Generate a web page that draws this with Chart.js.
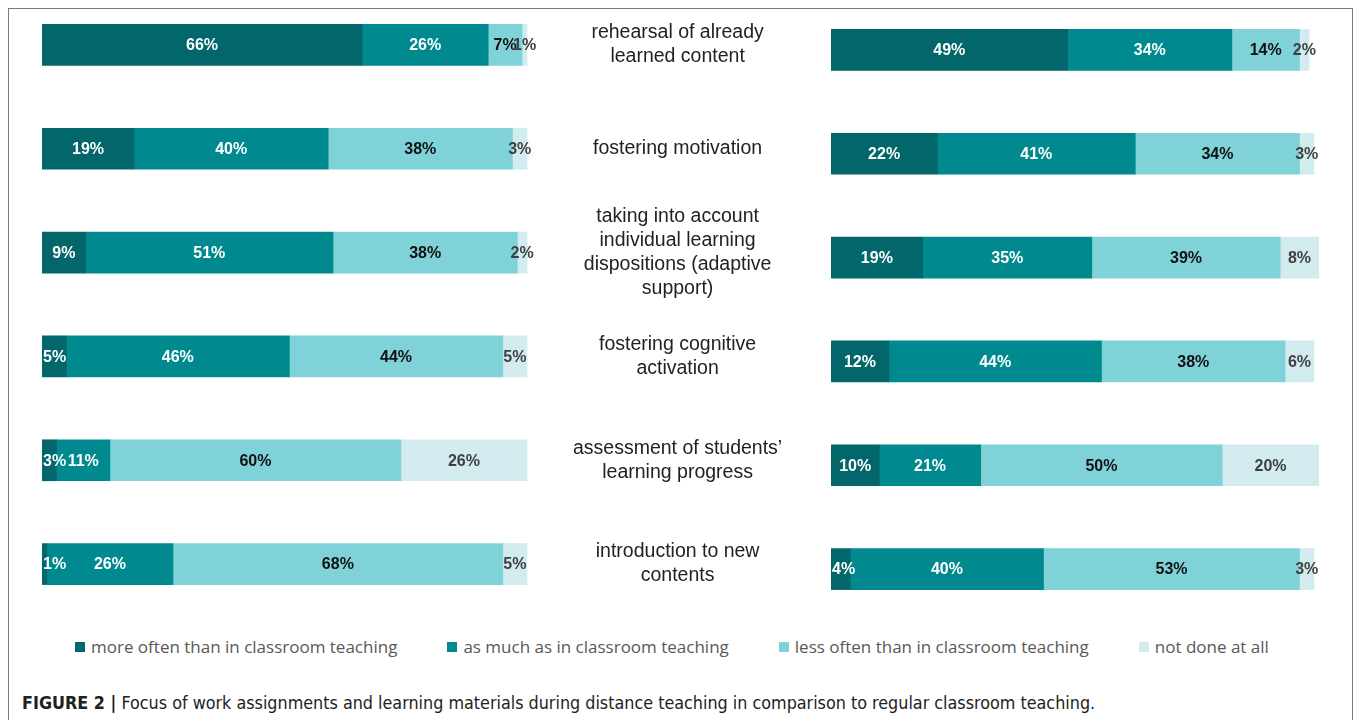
<!DOCTYPE html>
<html>
<head>
<meta charset="utf-8">
<script src="https://cdn.jsdelivr.net/npm/chart.js@4.4.1/dist/chart.umd.min.js"></script>
<style>
  html, body { margin: 0; padding: 0; background: #fff; }
  body { width: 1356px; height: 720px; position: relative; overflow: hidden; font-family: "Liberation Sans", Arial, sans-serif; }
  #frame { position: absolute; left: 8px; top: 8px; width: 1343px; height: 800px; border: 1px solid #7a7a7a; }
  canvas { position: absolute; }
  #leftChart { left: 42px; top: -7px; }
  #rightChart { left: 831px; top: -2px; }
  #legend { position: absolute; left: 75px; top: 635px; display: flex; gap: 50px; font-family: "Open Sans", "Noto Sans", sans-serif; font-size: 17px; color: #595959; white-space: nowrap; }
  #legend span.item { display: flex; align-items: center; }
  #legend i { display: inline-block; width: 10px; height: 10px; margin-right: 6px; }
  #caption { position: absolute; left: 22px; top: 692px; font-family: "Liberation Sans Narrow", "DejaVu Sans Condensed", sans-serif; font-size: 17.8px; color: #222; white-space: nowrap; }
</style>
</head>
<body>
<div id="frame"></div>
<canvas id="leftChart" width="785" height="623"></canvas>
<canvas id="rightChart" width="510" height="623"></canvas>
<div id="legend"></div>
<div id="caption"><b>FIGURE 2 |</b> Focus of work assignments and learning materials during distance teaching in comparison to regular classroom teaching.</div>
<script>
// Categories (shown between the two bar groups)
const categories = [
    ['rehearsal of already', 'learned content'],
    'fostering motivation',
    ['taking into account', 'individual learning', 'dispositions (adaptive', 'support)'],
    ['fostering cognitive', 'activation'],
    ['assessment of students\u2019', 'learning progress'],
    ['introduction to new', 'contents'],
];

const seriesNames = [
    'more often than in classroom teaching',
    'as much as in classroom teaching',
    'less often than in classroom teaching',
    'not done at all',
];
const seriesColors = ['#02666a', '#008a8f', '#7fd3d8', '#d1ebee'];
const labelColors = ['#ffffff', '#ffffff', '#111111', '#404040'];

// Left group (percent)
const leftMoreOften = [66, 19, 9, 5, 3, 1];
const leftAsMuch = [26, 40, 51, 46, 11, 26];
const leftLessOften = [7, 38, 38, 44, 60, 68];
const leftNotDone = [1, 3, 2, 5, 26, 5];

// Right group (percent)
const rightMoreOften = [49, 22, 19, 12, 10, 4];
const rightAsMuch = [34, 41, 35, 44, 21, 40];
const rightLessOften = [14, 34, 39, 38, 50, 53];
const rightNotDone = [2, 3, 8, 6, 20, 3];

const FONT = '"Liberation Sans", Arial, sans-serif';

// draws the % value in the middle of every bar segment
const barLabels = {
    id: 'barLabels',
    afterDatasetsDraw(chart) {
        const ctx = chart.ctx;
        const area = chart.chartArea;
        ctx.save();
        ctx.font = 'bold 16px ' + FONT;
        ctx.textBaseline = 'middle';
        ctx.textAlign = 'left';
        chart.data.datasets.forEach((ds, i) => {
            chart.getDatasetMeta(i).data.forEach((bar, j) => {
                const txt = ds.data[j] + '%';
                const w = ctx.measureText(txt).width;
                let x = (bar.x + bar.base) / 2 - w / 2;
                if (x < area.left + 1) x = area.left + 1; // keep inside the bar start
                ctx.fillStyle = labelColors[i];
                ctx.fillText(txt, x, bar.y + 1);
            });
        });
        ctx.restore();
    },
};

function makeDatasets(values) {
    return values.map((data, i) => ({
        label: seriesNames[i],
        data: data,
        backgroundColor: seriesColors[i],
        borderWidth: 0,
        barThickness: 41,
        clip: false,
    }));
}

function baseOptions(showCategories) {
    return {
        indexAxis: 'y',
        responsive: false,
        animation: false,
        devicePixelRatio: 1,
        layout: { padding: showCategories ? 0 : { right: 27 } },
        plugins: { legend: { display: false }, tooltip: { enabled: false } },
        scales: {
            x: { stacked: true, min: 0, max: 100, display: false },
            y: {
                stacked: true,
                display: showCategories,
                position: 'right',
                grid: { display: false },
                border: { display: false },
                ticks: {
                    crossAlign: 'center',
                    padding: 38,
                    color: '#222',
                    font: { family: FONT, size: 19.5, lineHeight: '24px' },
                },
                afterFit: (scale) => {
                    if (!showCategories) return;
                    scale.width = 300;
                    scale.paddingTop = 0;
                    scale.paddingBottom = 0;
                },
            },
        },
    };
}

// Left chart (with category labels on its right side)
new Chart(document.getElementById('leftChart').getContext('2d'), {
    type: 'bar',
    data: {
        labels: categories,
        datasets: makeDatasets([leftMoreOften, leftAsMuch, leftLessOften, leftNotDone]),
    },
    options: baseOptions(true),
    plugins: [barLabels],
});

// Right chart
new Chart(document.getElementById('rightChart').getContext('2d'), {
    type: 'bar',
    data: {
        labels: categories,
        datasets: makeDatasets([rightMoreOften, rightAsMuch, rightLessOften, rightNotDone]),
    },
    options: baseOptions(false),
    plugins: [barLabels],
});

// Legend
const legend = document.getElementById('legend');
seriesNames.forEach((name, i) => {
    const item = document.createElement('span');
    item.className = 'item';
    item.innerHTML = '<i style="background:' + seriesColors[i] + '"></i>' + name;
    legend.appendChild(item);
});
</script>
</body>
</html>
